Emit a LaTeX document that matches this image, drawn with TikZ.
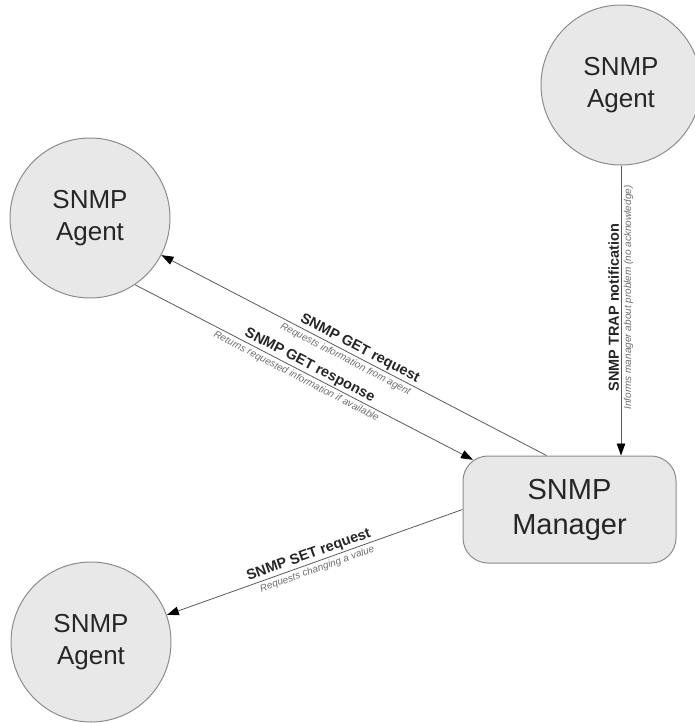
\documentclass[tikz,border=0pt]{standalone}
\usepackage{fontspec}
\setmainfont{Liberation Sans}
\usetikzlibrary{arrows.meta,calc}
\definecolor{nodefill}{HTML}{E8E8E8}
\definecolor{nodeborder}{HTML}{8C8C8C}
\definecolor{connc}{HTML}{5A5A5A}
\definecolor{subtxt}{HTML}{6E6E6E}
\begin{document}
\begin{tikzpicture}[x=1pt,y=-1pt,
  agent/.style={circle, draw=nodeborder, line width=1pt, fill=nodefill,
    minimum size=160pt, inner sep=0pt, align=center, text=black!85,
    font=\fontsize{26}{32}\selectfont},
  manager/.style={rectangle, rounded corners=25pt, draw=nodeborder, line width=1pt,
    fill=nodefill, minimum width=213pt, minimum height=107pt, align=center,
    text=black!85, font=\fontsize{29}{35}\selectfont},
  conn/.style={draw=connc, line width=0.8pt},
  tipend/.style={-{Triangle[length=12pt,width=8.5pt,color=black]}},
  tipstart/.style={{Triangle[length=12pt,width=8.5pt,color=black]}-},
  lbl/.style={font=\fontsize{14.5}{17}\bfseries\selectfont, text=black!85, above, inner sep=1.5pt},
  sublbl/.style={font=\fontsize{10}{12}\itshape\selectfont, text=subtxt, below, inner sep=2.5pt}]
\useasboundingbox (0,0) rectangle (694,723);
\node[agent] (ta) at (621,85) {SNMP\\Agent};
\node[agent] (la) at (90,218) {SNMP\\Agent};
\node[agent] (ba) at (91,642) {SNMP\\Agent};
\node[manager] (mgr) at (569.5,509.5) {SNMP\\Manager};
\coordinate (mreq) at ($(mgr.north west)+(84,0)$);
\coordinate (mresp) at ($(mgr.north west)+(10.5,4.3)$);
\coordinate (mtrap) at (ta.south |- mgr.north);
% GET request
\draw[conn, tipstart] (la) -- (mreq)
  node[lbl, sloped, pos=0.505] {SNMP GET request}
  node[sublbl, sloped, pos=0.487] {Requests information from agent};
% GET response
\draw[conn, tipend] (la.-56) -- (mresp)
  node[lbl, sloped, pos=0.505] {SNMP GET response}
  node[sublbl, sloped, pos=0.487] {Returns requested information if available};
% TRAP
\draw[conn, tipstart] (mtrap) -- (ta.south)
  node[lbl, rotate=90, pos=0.51] {SNMP TRAP notification}
  node[sublbl, rotate=90, pos=0.545] {Informs manager about problem (no acknowledge)};
% SET
\draw[conn, tipstart] (ba) -- (mgr.west)
  node[lbl, sloped, pos=0.49] {SNMP SET request}
  node[sublbl, sloped, pos=0.50] {Requests changing a value};
\end{tikzpicture}
\end{document}
